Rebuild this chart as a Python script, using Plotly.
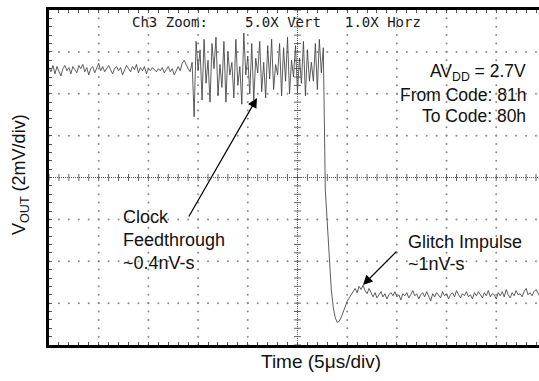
import numpy as np
import plotly.graph_objects as go

# ---------------- data (mV relative to screen centre, sampled every 0.2 us) ----------------
SAMPLE_US = 0.2
pre_mv = [5.25, 5.05, 5.35, 4.95, 5.3, 5.1, 4.85, 5.2, 5.35, 5.1,
          5.25, 4.95, 5.3, 5.15, 5.0, 5.35, 5.2, 5.4, 5.05, 5.25,
          4.9, 5.2, 5.3, 5.0, 5.25, 5.45, 5.1, 5.3, 5.05, 5.2,
          5.35, 5.15, 4.95, 5.2, 5.3, 5.1, 5.25, 4.9, 5.15, 5.35,
          5.2, 5.05, 5.3, 5.15, 5.4, 5.0, 5.25, 5.1, 5.3, 4.95,
          5.2, 5.1, 5.25, 5.15, 5.05, 5.2, 5.1, 5.25, 5.0, 5.15,
          5.3, 5.05, 5.2, 4.9, 5.15, 5.3, 5.1, 5.45, 5.6, 5.35,
          5.2, 5.05, 5.5]
feedthrough_mv = [2.9, 6.5, 5.1, 6.1, 3.7, 6.6, 4.5, 5.6, 3.6, 6.4,
                  5.2, 6.7, 3.9, 5.4, 4.3, 6.5, 3.6, 6.0, 4.9, 5.5,
                  3.8, 6.6, 4.4, 5.3, 3.5, 6.9, 4.9, 5.8, 4.0, 6.4,
                  3.7, 5.7, 5.0, 6.5, 4.1, 5.5, 3.8, 6.3, 4.7, 6.6,
                  4.2, 5.4, 4.9, 6.4, 3.9, 6.2, 4.6, 6.7, 4.0, 5.6,
                  4.8, 6.3, 4.1, 5.7, 4.5, 6.5, 3.9, 6.1, 4.6, 5.5,
                  4.6, 6.4, 4.2, 6.6, 5.0, 6.2]
step_mv = [-0.6, -2.2, -4.0, -5.35, -6.2, -6.7, -6.92, -6.87, -6.68, -6.4,
           -6.1, -5.92, -5.75, -5.6]
post_mv = [-5.45, -5.3, -5.5, -5.2, -5.35, -5.15, -5.4, -5.55, -5.3, -5.5,
           -5.7, -5.5, -5.75, -5.6, -5.45, -5.7, -5.55, -5.8, -5.6, -5.5,
           -5.65, -5.45, -5.7, -5.6, -5.85, -5.55, -5.65, -5.5, -5.75, -5.6,
           -5.4, -5.65, -5.55, -5.8, -5.6, -5.5, -5.7, -5.45, -5.65, -5.9,
           -5.55, -5.7, -5.5, -5.6, -5.75, -5.45, -5.65, -5.55, -5.8, -5.6,
           -5.5, -5.7, -5.4, -5.6, -5.75, -5.55, -5.65, -5.45, -5.7, -5.6,
           -5.8, -5.5, -5.65, -5.45, -5.6, -5.75, -5.5, -5.65, -5.4, -5.7,
           -5.55, -5.6, -5.8, -5.5, -5.65, -5.45, -5.7, -5.35, -5.6, -5.75,
           -5.5, -5.65, -5.4, -5.6, -5.55, -5.7, -5.45, -5.3, -5.6, -5.5,
           -5.65, -5.45, -5.35, -5.55, -5.7]

vout_mv = pre_mv + feedthrough_mv + step_mv + post_mv
time_us = np.arange(len(vout_mv)) * SAMPLE_US

# screen scale (oscilloscope graticule)
US_PER_DIV = 5
MV_PER_DIV = 2
X_RANGE = [0, 49.3]
Y_RANGE = [-8, 8]

# ---------------- layout helpers (pixel -> paper) ----------------
L, R, T, B = 49, 539, 10, 345
def pxx(x):
    return (x - L) / (R - L)
def pxy(y):
    return (B - y) / (B - T)

fig = go.Figure()

# graticule dots along the major division lines
minor_x = np.arange(0, X_RANGE[1], US_PER_DIV / 5)
minor_y = np.arange(Y_RANGE[0], Y_RANGE[1] + 0.01, MV_PER_DIV / 5)
major_x = [v for v in np.arange(US_PER_DIV, X_RANGE[1], US_PER_DIV) if abs(v - 25) > 1e-6]
major_y = [v for v in np.arange(Y_RANGE[0] + MV_PER_DIV, Y_RANGE[1], MV_PER_DIV) if abs(v) > 1e-6]
gx, gy = [], []
for xv in major_x:
    for yv in minor_y:
        gx.append(xv); gy.append(yv)
for yv in major_y:
    for xv in minor_x:
        gx.append(xv); gy.append(yv)
fig.add_trace(go.Scatter(x=gx, y=gy, mode="markers", hoverinfo="skip",
                         marker=dict(size=2, color="#8a8a8a", line=dict(width=0))))

# centre cross with tick marks
fig.add_shape(type="line", x0=25, x1=25, y0=Y_RANGE[0], y1=Y_RANGE[1],
              line=dict(color="#555", width=1, dash="1px,1px"))
fig.add_shape(type="line", x0=X_RANGE[0], x1=X_RANGE[1], y0=0, y1=0,
              line=dict(color="#555", width=1, dash="1px,1px"))
fig.add_trace(go.Scatter(x=minor_x, y=[0] * len(minor_x), mode="markers", hoverinfo="skip",
                         marker=dict(symbol="line-ns", size=5, line=dict(width=1, color="#666"))))
fig.add_trace(go.Scatter(x=[25] * len(minor_y), y=minor_y, mode="markers", hoverinfo="skip",
                         marker=dict(symbol="line-ew", size=5, line=dict(width=1, color="#666"))))

# waveform
fig.add_trace(go.Scatter(x=time_us, y=vout_mv, mode="lines",
                         line=dict(color="#404040", width=0.85)))

fig.update_xaxes(range=X_RANGE, showgrid=False, zeroline=False, showticklabels=False,
                 showline=True, linecolor="black", linewidth=2.5, mirror="allticks",
                 ticks="inside", ticklen=3, tickcolor="#555", dtick=US_PER_DIV, tick0=0,
                 minor=dict(dtick=US_PER_DIV / 5, ticks="inside", ticklen=3,
                            tickcolor="#555", showgrid=False))
fig.update_yaxes(range=Y_RANGE, showgrid=False, zeroline=False, showticklabels=False,
                 showline=True, linecolor="black", linewidth=2.5, mirror=False,
                 ticks="inside", ticklen=3, tickcolor="#555", dtick=MV_PER_DIV, tick0=0,
                 minor=dict(dtick=MV_PER_DIV / 5, ticks="inside", ticklen=3,
                            tickcolor="#555", showgrid=False))

SANS = "Liberation Sans, Arial, Helvetica, sans-serif"
MONO = "DejaVu Sans Mono, monospace"
ann = []
def text(s, x, y, xanchor="left", size=18, family=SANS, color="#111111", angle=0):
    ann.append(dict(text=s, x=pxx(x), y=pxy(y), xref="paper", yref="paper",
                    xanchor=xanchor, yanchor="middle", showarrow=False, textangle=angle,
                    font=dict(family=family, size=size, color=color)))

text("Ch3 Zoom:", 130, 22, size=14, family=MONO, color="#1a1a1a")
text("5.0X Vert", 243, 22, size=14, family=MONO, color="#1a1a1a")
text("1.0X Horz", 343, 22, size=14, family=MONO, color="#1a1a1a")
text("AV<sub>DD</sub> = 2.7V", 528, 72, xanchor="right", size=17.5)
text("From Code: 81h", 528, 95, xanchor="right", size=17.5)
text("To Code: 80h", 528, 116, xanchor="right", size=17.5)
text("Clock", 121, 217)
text("Feedthrough", 121, 240)
text("~0.4nV-s", 121, 263)
text("Glitch Impulse", 406, 242)
text("~1nV-s", 406, 264)
text("V<sub>OUT</sub> (2mV/div)", 20, 175, xanchor="center", angle=-90)
text("Time (5μs/div)", 321, 361, xanchor="center", size=19)

for tip, tail in [((257, 98), (188, 218)), ((363, 285), (398, 250))]:
    ann.append(dict(text="", x=pxx(tip[0]), y=pxy(tip[1]), xref="paper", yref="paper",
                    ax=tail[0] - tip[0], ay=tail[1] - tip[1], showarrow=True,
                    arrowhead=2, arrowsize=1.6, arrowwidth=1.2, arrowcolor="black",
                    standoff=0))

fig.update_layout(width=539, height=381, margin=dict(l=L, r=539 - R, t=T, b=381 - B),
                  plot_bgcolor="white", paper_bgcolor="white", showlegend=False,
                  annotations=ann)

fig.write_html("out.html", config={"displayModeBar": False},
               post_script="document.body.style.margin='0';document.body.style.overflow='hidden';")
